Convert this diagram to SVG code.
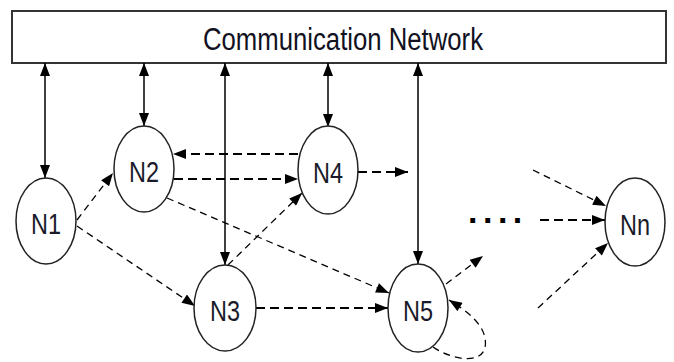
<svg xmlns="http://www.w3.org/2000/svg" width="674" height="362" viewBox="0 0 674 362">
<style>
.node ellipse{fill:#fff;stroke:#222;stroke-width:1.5}
.node text{font-family:"Liberation Sans",Arial,sans-serif;font-size:30px;fill:#1a1a2a;text-anchor:middle}
.solid{stroke:#000;stroke-width:1.5;fill:none}
.dash{stroke:#000;stroke-width:1.8;fill:none;stroke-dasharray:9 5}
.dash2{stroke:#000;stroke-width:1.3;fill:none;stroke-dasharray:7 5}
</style>
<defs>
<marker id="ah" viewBox="0 0 13 10" refX="13" refY="5" markerWidth="14" markerHeight="10" markerUnits="userSpaceOnUse" orient="auto-start-reverse">
<path d="M0,0 L13,5 L0,10 z" fill="#000"/>
</marker>
</defs>
<rect width="674" height="362" fill="#fff"/>
<g id="network">
<rect x="12" y="11" width="654" height="52" fill="#fff" stroke="#333" stroke-width="2"/>
<text x="343" y="50" font-family="'Liberation Sans',Arial,sans-serif" font-size="31" fill="#111122" text-anchor="middle" textLength="280" lengthAdjust="spacingAndGlyphs">Communication Network</text>
</g>
<g id="connectors">
<path class="solid" d="M45,63 L45,178" marker-start="url(#ah)" marker-end="url(#ah)"/>
<path class="solid" d="M144,63 L144,126" marker-start="url(#ah)" marker-end="url(#ah)"/>
<path class="solid" d="M225,63 L225,265" marker-start="url(#ah)" marker-end="url(#ah)"/>
<path class="solid" d="M328,63 L328,127" marker-start="url(#ah)" marker-end="url(#ah)"/>
<path class="solid" d="M418,63 L418,264" marker-start="url(#ah)" marker-end="url(#ah)"/>
<path class="dash" d="M298,154 L173,154" marker-end="url(#ah)"/>
<path class="dash" d="M174,179 L298,179" marker-end="url(#ah)"/>
<path class="dash2" d="M77,220 L113,173" marker-end="url(#ah)"/>
<path class="dash2" d="M77,226 L195,306" marker-end="url(#ah)"/>
<path class="dash2" d="M167,198 L389,293" marker-end="url(#ah)"/>
<path class="dash2" d="M228,265 L302,193" marker-end="url(#ah)"/>
<path class="dash" d="M256,308 L388,308" marker-end="url(#ah)"/>
<path class="dash" d="M358,172 L408,172" marker-end="url(#ah)"/>
<path class="dash2" d="M446,284 L483,256" marker-end="url(#ah)"/>
<path class="dash2" d="M433,347 C455,362 490,366 485,338 C482,322 465,310 449,300" marker-end="url(#ah)"/>
<path class="dash2" d="M533,170 L606,206" marker-end="url(#ah)"/>
<path class="dash" d="M540,220 L605,220" marker-end="url(#ah)"/>
<path class="dash2" d="M538,308 L608,243" marker-end="url(#ah)"/>
</g>
<g id="N1" class="node"><ellipse cx="46" cy="221" rx="30" ry="43"/><text x="46" y="234" textLength="30" lengthAdjust="spacingAndGlyphs">N1</text></g>
<g id="N2" class="node"><ellipse cx="144" cy="169" rx="30" ry="43"/><text x="144" y="182" textLength="30" lengthAdjust="spacingAndGlyphs">N2</text></g>
<g id="N3" class="node"><ellipse cx="225" cy="308" rx="31" ry="43"/><text x="225" y="321" textLength="30" lengthAdjust="spacingAndGlyphs">N3</text></g>
<g id="N4" class="node"><ellipse cx="328" cy="170" rx="30" ry="44"/><text x="328" y="183" textLength="30" lengthAdjust="spacingAndGlyphs">N4</text></g>
<g id="N5" class="node"><ellipse cx="418" cy="308" rx="30" ry="44"/><text x="418" y="321" textLength="30" lengthAdjust="spacingAndGlyphs">N5</text></g>
<g id="Nn" class="node"><ellipse cx="635" cy="222" rx="30" ry="44"/><text x="635" y="235" textLength="30" lengthAdjust="spacingAndGlyphs">Nn</text></g>
<g id="dots"><text x="468" y="223" font-family="'Liberation Sans',Arial,sans-serif" font-size="34" font-weight="bold" letter-spacing="5.5" fill="#000">....</text></g>
</svg>
